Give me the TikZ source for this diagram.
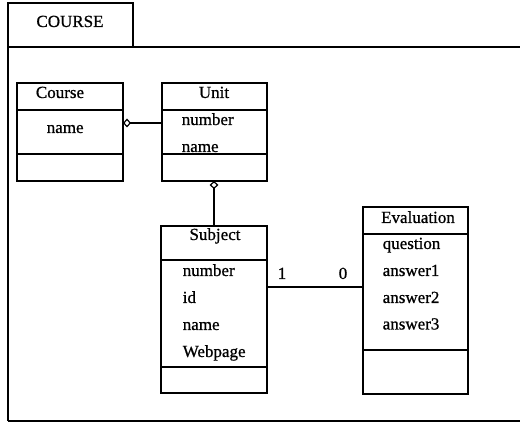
\documentclass[tikz,border=0pt]{standalone}
\usepackage{fontspec}
\setmainfont{Liberation Serif}[FakeBold=0.8]
\usetikzlibrary{arrows.meta}
\begin{document}
\begin{tikzpicture}[x=1pt,y=-1pt,line width=1.5pt,
  classbox/.style={draw,rectangle,inner sep=0pt,outer sep=0pt,anchor=north west},
  lbl/.style={inner sep=0pt,anchor=base west,font=\fontsize{17}{20}\selectfont},
  clbl/.style={inner sep=0pt,anchor=base,font=\fontsize{17}{20}\selectfont},
  agg/.style={line width=1.2pt,-{Diamond[open,length=8pt,width=9pt,line width=1.2pt]}},
  assoc/.style={line width=1.2pt}]
\useasboundingbox (0,0) rectangle (520,422);

% package frame with its name tab
\draw (8,421) -- (8,3) -- (133,3) -- (133,47);
\draw (8,47) -- (520,47);
\draw (8,421) -- (520,421);
\node[clbl] (pkg) at (70,27) {COURSE};

% class Course
\node[classbox,minimum width=106,minimum height=98] (course) at (17,83) {};
\draw (course.west |- 0,110) -- (course.east |- 0,110);
\draw (course.west |- 0,154) -- (course.east |- 0,154);
\node[clbl] (coursetitle) at (60,98) {Course};
\node[lbl] (coursename) at (46,133) {name};

% class Unit
\node[classbox,minimum width=105,minimum height=98] (unit) at (162,83) {};
\draw (unit.west |- 0,110) -- (unit.east |- 0,110);
\draw (unit.west |- 0,154) -- (unit.east |- 0,154);
\node[clbl] (unittitle) at (214,98) {Unit};
\node[lbl] (unitnumber) at (181,125) {number};
\node[lbl] (unitname) at (181,152) {name};

% class Subject
\node[classbox,minimum width=106,minimum height=167] (subject) at (161,226) {};
\draw (subject.west |- 0,260) -- (subject.east |- 0,260);
\draw (subject.west |- 0,367) -- (subject.east |- 0,367);
\node[clbl] (subjecttitle) at (215,240) {Subject};
\node[lbl] (subjnumber) at (182,276) {number};
\node[lbl] (subjid) at (182,303) {id};
\node[lbl] (subjname) at (182,330) {name};
\node[lbl] (subjweb) at (182,357) {Webpage};

% class Evaluation
\node[classbox,minimum width=105,minimum height=187] (eval) at (363,207) {};
\draw (eval.west |- 0,234) -- (eval.east |- 0,234);
\draw (eval.west |- 0,350) -- (eval.east |- 0,350);
\node[clbl] (evaltitle) at (418,223) {Evaluation};
\node[lbl] (evalq) at (382,249) {question};
\node[lbl] (evala1) at (382,276) {answer1};
\node[lbl] (evala2) at (382,303) {answer2};
\node[lbl] (evala3) at (382,329.5) {answer3};

% relations
\draw[agg] (unit.west |- 0,123) -- (course.east |- 0,123);
\draw[agg] (subject.north) -- (subject.north |- unit.south);
\draw[assoc] (subject.east |- 0,287) -- (eval.west |- 0,287);
\node[lbl] (multone) at (277,279) {1};
\node[lbl] (multzero) at (338,279) {0};
\end{tikzpicture}
\end{document}
